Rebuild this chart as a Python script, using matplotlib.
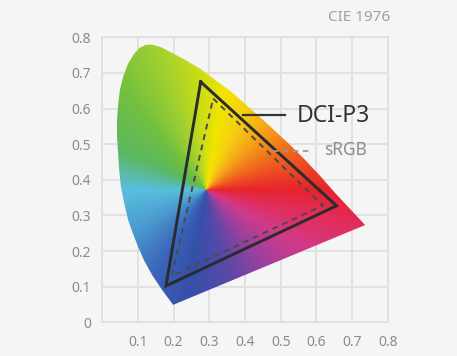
import numpy as np
import matplotlib
matplotlib.use("Agg")
import matplotlib.pyplot as plt
from matplotlib.colors import LinearSegmentedColormap
from matplotlib.patches import Polygon

plt.rcParams['font.family'] = ['Noto Sans', 'DejaVu Sans']

# outline of the (stylised) chromaticity region
locus_u = [0.199, 0.168, 0.140, 0.117, 0.101, 0.087, 0.073, 0.062, 0.053,
           0.048, 0.045, 0.042, 0.042, 0.045, 0.050, 0.059, 0.073, 0.090,
           0.106, 0.123, 0.143, 0.168, 0.196, 0.232, 0.274, 0.316, 0.358,
           0.400, 0.442, 0.484, 0.526, 0.568, 0.610, 0.652, 0.694, 0.736]
locus_v = [0.049, 0.091, 0.133, 0.175, 0.212, 0.248, 0.287, 0.335, 0.380,
           0.428, 0.476, 0.523, 0.568, 0.610, 0.652, 0.689, 0.726, 0.754,
           0.771, 0.779, 0.779, 0.771, 0.756, 0.737, 0.712, 0.681, 0.650,
           0.613, 0.576, 0.537, 0.498, 0.456, 0.411, 0.363, 0.318, 0.273]

# gamut triangles (u', v')
dci_u = [0.276, 0.656, 0.179]
dci_v = [0.675, 0.327, 0.102]
srgb_u = [0.311, 0.618, 0.195]
srgb_v = [0.628, 0.328, 0.130]

x_ticks = [0.1, 0.2, 0.3, 0.4, 0.5, 0.6, 0.7, 0.8]
x_labels = ["0.1", "0.2", "0.3", "0.4", "0.5", "0.6", "0.7", "0.8"]
y_ticks = [0, 0.1, 0.2, 0.3, 0.4, 0.5, 0.6, 0.7, 0.8]
y_labels = ["0", "0.1", "0.2", "0.3", "0.4", "0.5", "0.6", "0.7", "0.8"]

# hue around the centre point (angle in degrees -> colour)
hue_angles = [-180, -150, -120, -100, -75, -50, -30, -12, 0, 20, 45, 65, 80,
              95, 110, 130, 155, 180]
hue_colors = ['#58bedc', '#4a9ad0', '#3a62b8', '#3550a8', '#5a48a8', '#a0409c',
              '#d23a88', '#e22c58', '#e6242c', '#ee5a20', '#f5a018', '#f5d010',
              '#f2e500', '#c8dc18', '#a0d030', '#72c040', '#5cb860', '#58bedc']
centre = (0.291, 0.371)


def hue_image(ext):
    uu, vv = np.meshgrid(np.linspace(ext[0], ext[1], 500),
                         np.linspace(ext[2], ext[3], 500))
    ang = np.degrees(np.arctan2(vv - centre[1], uu - centre[0]))
    stops = [((a + 180) / 360.0, c) for a, c in zip(hue_angles, hue_colors)]
    cmap = LinearSegmentedColormap.from_list("hue", stops)
    return cmap((ang + 180) / 360.0)


fig = plt.figure(figsize=(4.57, 3.56), dpi=100)
fig.patch.set_facecolor('#f5f5f5')
ax = fig.add_axes([0.2232, 0.0947, 0.6258, 0.8005])
ax.set_facecolor('#f5f5f5')

ax.set_xlim(0, 0.8)
ax.set_ylim(0, 0.8)
ax.set_xticks(x_ticks)
ax.set_xticklabels(x_labels)
ax.set_yticks(y_ticks)
ax.set_yticklabels(y_labels)
ax.tick_params(length=0, labelsize=10, labelcolor='#8c8c8c')
ax.tick_params(axis='y', pad=8)
ax.tick_params(axis='x', pad=9)
ax.grid(True, color='#e1e1e1', lw=1.4)
ax.set_axisbelow(True)
for s in ax.spines.values():
    s.set_color('#e1e1e1')
    s.set_linewidth(1.4)

ext = [0.0, 0.8, 0.0, 0.8]
img = ax.imshow(hue_image(ext), extent=ext, origin='lower', aspect='auto',
                interpolation='bilinear', zorder=2)
region = Polygon(np.column_stack([locus_u, locus_v]), closed=True,
                 facecolor='none', edgecolor='none', transform=ax.transData)
ax.add_patch(region)
img.set_clip_path(region)

ax.plot(srgb_u + srgb_u[:1], srgb_v + srgb_v[:1], color='#4a4a4a', lw=1.4,
        ls=(0, (3, 2.5)), zorder=3)
ax.plot(dci_u + dci_u[:1], dci_v + dci_v[:1], color='#2b2b2b', lw=2.1,
        solid_joinstyle='miter', zorder=4)

# labels with leader lines
ax.plot([0.394, 0.513], [0.582, 0.582], color='#333333', lw=1.6, zorder=4)
ax.text(0.545, 0.580, "DCI-P3", fontsize=16.5, color='#333333',
        va='center', ha='left', zorder=5)
ax.plot([0.478, 0.582], [0.482, 0.482], color='#999999', lw=1.3,
        ls=(0, (3, 2.5)), zorder=4)
ax.text(0.621, 0.484, "sRGB", fontsize=12.5, color='#8c8c8c',
        va='center', ha='left', zorder=5)

fig.text(0.853, 0.952, "CIE 1976", fontsize=11, color='#a0a0a0',
         ha='right', va='center')

fig.savefig("out.png", dpi=100, facecolor=fig.get_facecolor())
